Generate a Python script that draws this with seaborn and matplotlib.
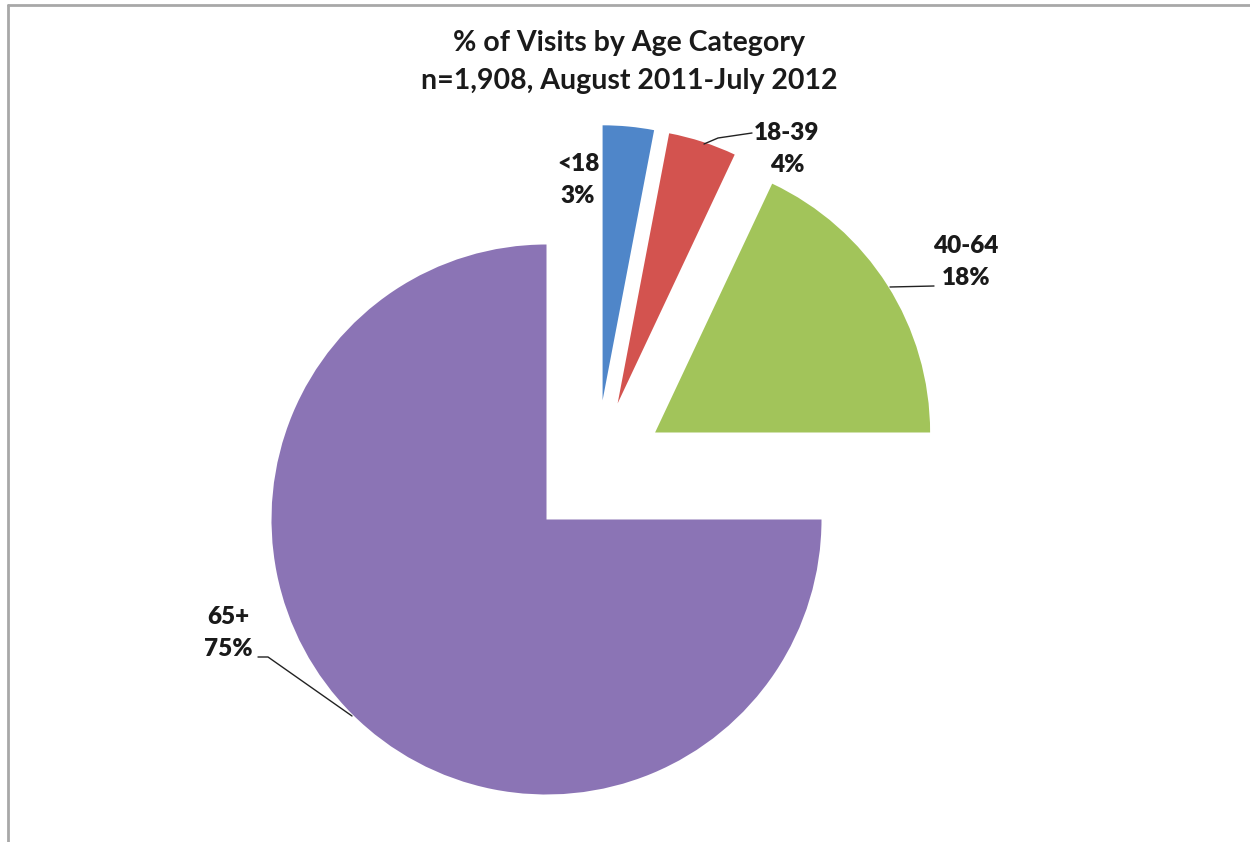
import matplotlib
matplotlib.use("Agg")
import matplotlib.pyplot as plt
import seaborn as sns

categories = ["<18", "18-39", "40-64", "65+"]
values = [3, 4, 18, 75]
pct_labels = ["3%", "4%", "18%", "75%"]
title_lines = ["% of Visits by Age Category", "n=1,908, August 2011-July 2012"]

sns.set_theme(style="white")
plt.rcParams['font.family'] = ['Lato', 'DejaVu Sans']
colors = sns.color_palette(["#4F86C9", "#D3534F", "#A2C45A", "#8B74B5"])

W, H = 1250, 842
fig = plt.figure(figsize=(12.5, 8.42), dpi=100)
ax = fig.add_axes([0, 0, 1, 1])

def Y(y):
    return H - y

ax.pie(values, colors=colors, startangle=90, counterclock=False,
       center=(596, Y(470)), radius=275, explode=[70] * 4,
       wedgeprops=dict(linewidth=0), frame=True)
ax.set_xlim(0, W)
ax.set_ylim(0, H)
ax.set_aspect('equal')
ax.axis('off')

# border
ax.plot([8, W], [Y(5), Y(5)], color="#A8A8A8", lw=2, clip_on=False)
ax.plot([8, 8], [Y(5), 0], color="#A8A8A8", lw=2, clip_on=False)

tfs = 20.5
ax.text(629, Y(43), title_lines[0], ha='center', va='center', fontsize=tfs, fontweight='bold', color="#1a1a1a")
ax.text(629, Y(81), title_lines[1], ha='center', va='center', fontsize=tfs, fontweight='bold', color="#1a1a1a")

fs = 17.5
lab = [f"{c}\n{p}" for c, p in zip(categories, pct_labels)]
kw = dict(ha='center', va='center', fontsize=fs, fontweight='heavy', color="#1a1a1a", linespacing=1.55)

ax.text(578, Y(180), lab[0], **kw)
ax.text(787, Y(149), lab[1], **kw)
ax.plot([704, 718, 752], [Y(144), Y(138), Y(133)], color="#222222", lw=1)
ax.text(966, Y(262), lab[2], **kw)
ax.plot([890, 934], [Y(287), Y(286)], color="#222222", lw=1)
ax.text(228, Y(633), lab[3], **kw)
ax.plot([258, 268, 352], [Y(657), Y(657), Y(716)], color="#222222", lw=1)

fig.savefig("out.png", dpi=100, facecolor="white")
